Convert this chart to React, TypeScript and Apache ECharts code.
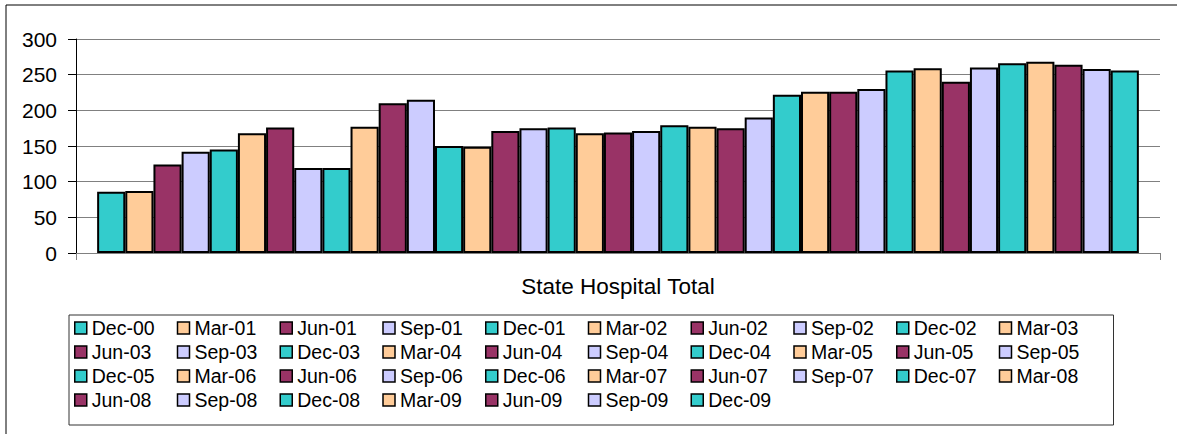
import React, { useEffect, useRef } from "react";
import * as echarts from "echarts";

const categories = ["State Hospital Total"];
const quarters = [
  "Dec-00", "Mar-01", "Jun-01", "Sep-01", "Dec-01", "Mar-02", "Jun-02", "Sep-02", "Dec-02", "Mar-03",
  "Jun-03", "Sep-03", "Dec-03", "Mar-04", "Jun-04", "Sep-04", "Dec-04", "Mar-05", "Jun-05", "Sep-05",
  "Dec-05", "Mar-06", "Jun-06", "Sep-06", "Dec-06", "Mar-07", "Jun-07", "Sep-07", "Dec-07", "Mar-08",
  "Jun-08", "Sep-08", "Dec-08", "Mar-09", "Jun-09", "Sep-09", "Dec-09",
];
const values = [
  86, 87, 124, 142, 145, 168, 176, 119, 119, 177,
  210, 215, 150, 149, 171, 175, 176, 168, 169, 171,
  179, 177, 175, 190, 222, 226, 226, 230, 256, 259,
  240, 260, 266, 268, 264, 258, 256,
];
const palette = ["#33CCCC", "#FFCC99", "#993366", "#CCCCFF"];
const yMin = 0;
const yMax = 300;
const yStep = 50;

const FONT = "Arial, 'Liberation Sans', sans-serif";

export default function App() {
  const ref = useRef<HTMLDivElement>(null);
  useEffect(() => {
    document.body.style.margin = "0";
    const chart = echarts.init(ref.current!, null, { renderer: "svg" });
    const series = quarters.map((q, i) => ({
      name: q,
      type: "bar",
      data: [values[i]],
      barGap: "0%",
      barCategoryGap: "3.9%",
      itemStyle: {
        color: palette[i % palette.length],
        borderColor: "#000",
        borderWidth: 2,
      },
    }));
    chart.setOption({
      animation: false,
      backgroundColor: "#fff",
      textStyle: { fontFamily: FONT },
      graphic: [
        {
          type: "polyline",
          shape: { points: [[6, 434], [6, 5], [1177, 5]] },
          style: { fill: "none", stroke: "#000", lineWidth: 1 },
          silent: true,
          z: 0,
        },
      ],
      grid: { left: 76, right: 17, top: 39, bottom: 181, containLabel: false },
      xAxis: {
        type: "category",
        data: categories,
        boundaryGap: true,
        axisLine: { show: true, lineStyle: { color: "#808080", width: 1 } },
        axisTick: { show: true, length: 7, lineStyle: { color: "#808080" } },
        axisLabel: { color: "#000", fontSize: 22.5, fontFamily: FONT, margin: 22 },
        splitLine: { show: false },
      },
      yAxis: {
        type: "value",
        min: yMin,
        max: yMax,
        interval: yStep,
        axisLine: { show: true, lineStyle: { color: "#000", width: 1 } },
        axisTick: { show: true, length: 8, lineStyle: { color: "#000" } },
        axisLabel: { color: "#000", fontSize: 21, fontFamily: FONT, margin: 19 },
        splitLine: { show: true, lineStyle: { color: "#808080", width: 1 } },
      },
      legend: {
        data: quarters,
        left: 69,
        top: 315,
        width: 1030,
        orient: "horizontal",
        padding: [3, 16, 15, 5],
        borderColor: "#333",
        borderWidth: 1,
        itemWidth: 12,
        itemHeight: 12,
        itemGap: 4,
        icon: "rect",
        itemStyle: { borderColor: "#000", borderWidth: 1.5 },
        textStyle: {
          color: "#000",
          fontSize: 19.5,
          fontFamily: FONT,
          lineHeight: 20,
          width: 81,
        },
      },
      series,
    });
    return () => chart.dispose();
  }, []);
  return (
    <div
      ref={ref}
      style={{ position: "absolute", left: 0, top: 0, width: 1177, height: 434 }}
    />
  );
}
